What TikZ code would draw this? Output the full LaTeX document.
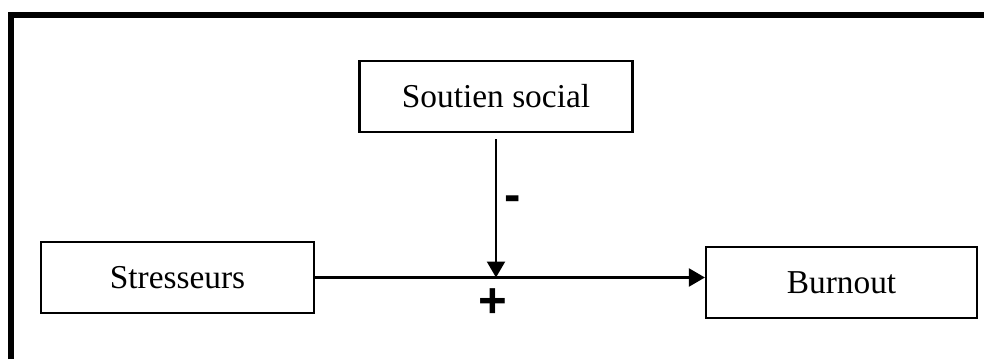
\documentclass[tikz,border=0pt]{standalone}
\usepackage{fontspec}
\setmainfont{Liberation Serif}
\newfontfamily\signfont{Liberation Sans}
\usetikzlibrary{arrows.meta}
\tikzset{
    factor/.style={draw,line width=0.045cm,minimum width=5.46cm,minimum height=1.42cm,inner sep=0pt,font=\fontsize{19}{23}\selectfont},
    link/.style={line width=0.045cm,-{Triangle[length=0.32cm,width=0.36cm]}},
    sign/.style={font=\signfont\bfseries\fontsize{28}{32}\selectfont,inner sep=0pt}
}

\begin{document}
\begin{tikzpicture}[x=0.02cm,y=0.02cm]
                            \useasboundingbox (0,0) rectangle (984,359);
                            \draw[line width=0.13cm] (11,0) -- (11,344) -- (984,344);
                            \node[factor] (soutien) at (496,262.5) {Soutien social};
                            \node[factor] (stress) at (177.5,81.5) {Stresseurs};
                            \node[factor,minimum width=5.42cm] (burnout) at (841.5,76.5) {Burnout};
                            \coordinate (mid) at (soutien.south |- stress.east);
                            \draw[link] (stress.east) -- (stress.east -| burnout.west);
                            \draw[link] ([yshift=-0.12cm]soutien.south) -- (mid);
                            \node[sign] (minus) at (513,155) {-};
                            \node[sign] (plus) at (493,56) {+};
                        \end{tikzpicture}
\end{document}
